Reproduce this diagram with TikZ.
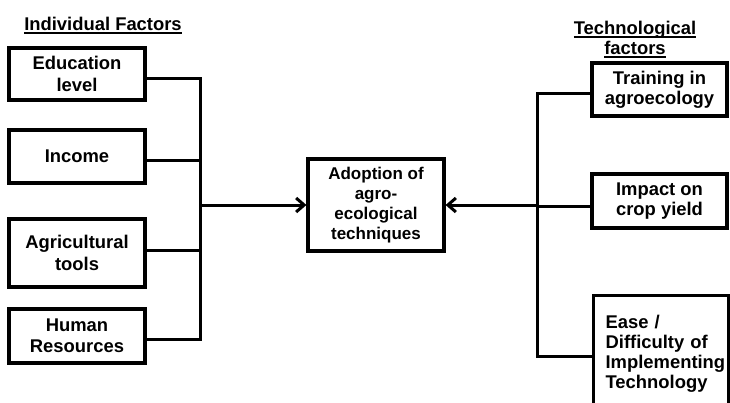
\documentclass[tikz,border=0pt]{standalone}
\usepackage{fontspec}
\setmainfont{Liberation Sans}
\usetikzlibrary{arrows.meta}
\newcommand\myul[1]{\setbox0\hbox{#1}\rlap{\vrule width\wd0 height -2.2pt depth 4.2pt}\box0}
\begin{document}
\begin{tikzpicture}[x=1pt,y=-1pt,
  box/.style={draw, line width=3.2pt, minimum width=136pt, inner sep=0pt, align=center,
    font=\bfseries\fontsize{18.4}{21.5}\selectfont},
  rbox/.style={box, minimum width=135pt, font=\bfseries\fontsize{18.4}{20}\selectfont},
  conn/.style={line width=3pt},
  arr/.style={conn, -{Straight Barb[length=8pt,width=14pt]}},
  title/.style={font=\bfseries\fontsize{18.4}{20}\selectfont, align=center, inner sep=0pt}]
\useasboundingbox (0,0) rectangle (730,402);
% titles
\node[title, anchor=base] (tl) at (103,30) {\myul{Individual Factors}};
\node[title, anchor=north] (tr) at (635,20.5) {\myul{Technological}\\\myul{factors}};
% left boxes
\node[box, minimum height=52pt] (edu) at (77,74) {Education\\level};
\node[box, minimum height=53pt] (inc) at (77,156.5) {Income};
\node[box, minimum height=68pt] (agri) at (77,253) {Agricultural\\tools};
\node[box, minimum height=54pt] (hum) at (77,336) {Human\\Resources};
% centre
\node[box, minimum height=92pt, font=\bfseries\fontsize{17}{20}\selectfont] (adopt) at (376,205)
  {Adoption of\\agro-\\ecological\\techniques};
% right boxes
\node[rbox, minimum height=53pt] (train) at (659.5,89.5) {Training in\\agroecology};
\node[rbox, minimum height=54pt] (imp) at (659.5,201) {Impact on\\crop yield};
\node[rbox, anchor=north west, text width=111pt, inner xsep=11pt, inner ysep=20pt, align=left]
  (ease) at (592,294) {Ease /\\Difficulty of\\\mbox{Implementing}\\Technology};
% connectors
\coordinate (lbus) at (200,205);
\coordinate (rbus) at (537,205);
\draw[conn] ([yshift=-4pt]edu.east) -| (lbus);
\draw[conn] ([yshift=-3.5pt]inc.east) -| (lbus);
\draw[conn] ([yshift=3pt]agri.east) -| (lbus);
\draw[conn] ([yshift=-3pt]hum.east) -| (lbus);
\draw[arr] (lbus) -- (adopt.west);
\draw[conn] ([yshift=-3.5pt]train.west) -| (rbus);
\draw[conn] ([yshift=-5pt]imp.west) -| (rbus);
\draw[conn] ([yshift=-62.5pt]ease.north west) -| (rbus);
\draw[arr] (rbus) -- (adopt.east);
\end{tikzpicture}
\end{document}
